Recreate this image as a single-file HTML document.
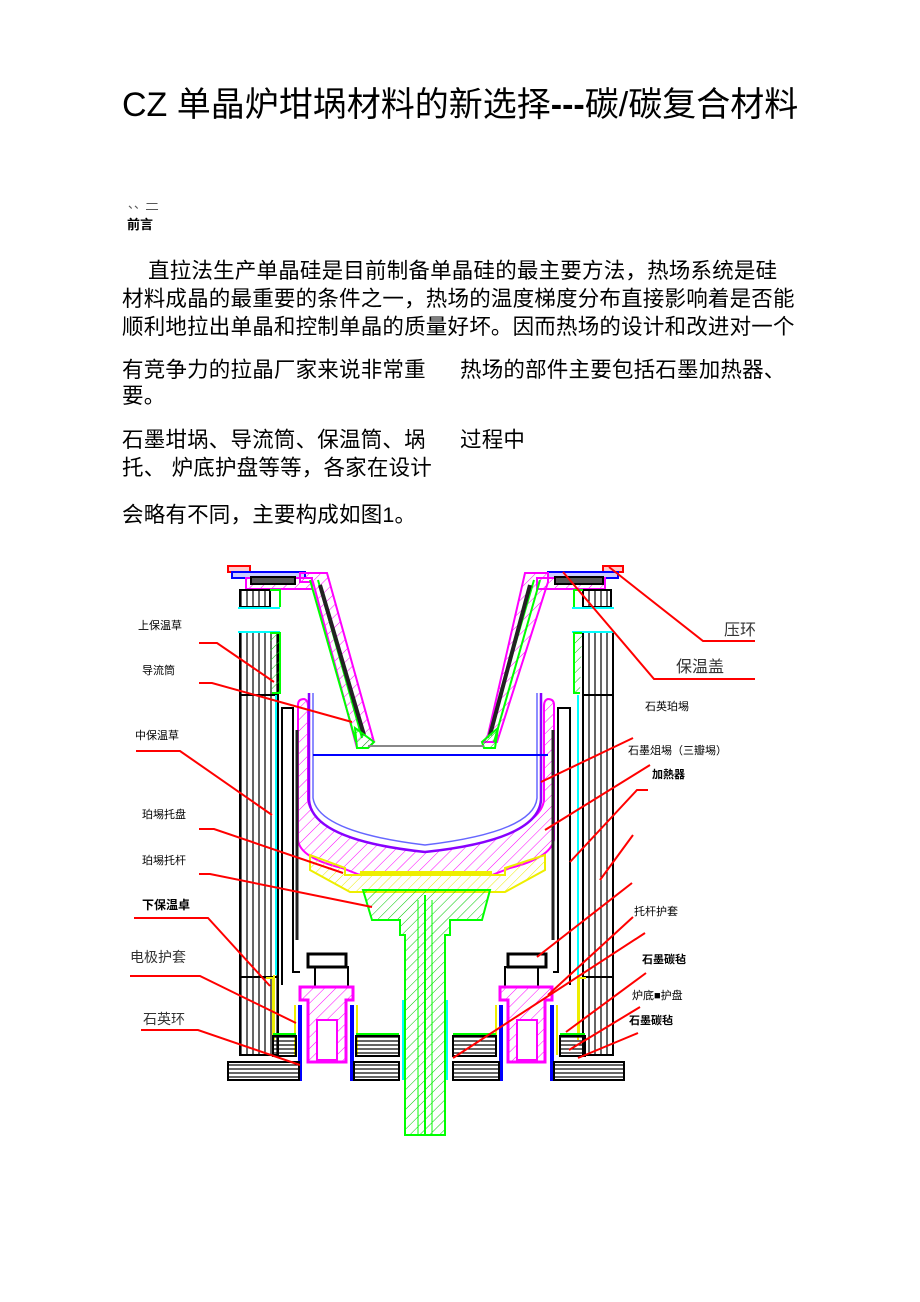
<!DOCTYPE html>
<html><head><meta charset="utf-8"><style>
body{margin:0;width:920px;height:1302px;background:#fff;position:relative;overflow:hidden;font-family:"Liberation Sans","Noto Sans CJK SC",sans-serif;color:#000}
.t{position:absolute;white-space:nowrap;line-height:1}
.p{font-size:21.5px;letter-spacing:0.2px}
.l{font-size:11px;font-family:"Liberation Sans","Noto Sans CJK SC",sans-serif}
svg{position:absolute;left:0;top:0}
</style></head><body>
<div class="t" style="left:122px;top:88px;font-size:34px">CZ 单晶炉坩埚材料的新选择<b>---</b>碳/碳复合材料</div>
<div class="t" style="left:128px;top:198px;font-size:12px;color:#555">、、<span style="text-decoration:underline">一</span></div>
<div class="t" style="left:127px;top:218px;font-size:13px;font-weight:bold">前言</div>
<div class="t p" style="left:148px;top:261px">直拉法生产单晶硅是目前制备单晶硅的最主要方法，热场系统是硅</div>
<div class="t p" style="left:122px;top:289px">材料成晶的最重要的条件之一，热场的温度梯度分布直接影响着是否能</div>
<div class="t p" style="left:122px;top:317px">顺利地拉出单晶和控制单晶的质量好坏。因而热场的设计和改进对一个</div>
<div class="t p" style="left:122px;top:360px">有竞争力的拉晶厂家来说非常重</div>
<div class="t p" style="left:460px;top:360px">热场的部件主要包括石墨加热器、</div>
<div class="t p" style="left:122px;top:386px">要。</div>
<div class="t p" style="left:122px;top:430px">石墨坩埚、导流筒、保温筒、埚</div>
<div class="t p" style="left:460px;top:430px">过程中</div>
<div class="t p" style="left:122px;top:458px">托、 炉底护盘等等，各家在设计</div>
<div class="t p" style="left:122px;top:505px">会略有不同，主要构成如图1。</div>

<svg width="920" height="1302" viewBox="0 0 920 1302">
<defs>
<pattern id="hm" width="8" height="8" patternUnits="userSpaceOnUse" patternTransform="rotate(45)"><line x1="0" y1="0" x2="0" y2="8" stroke="#f0f" stroke-width="1"/></pattern>
<pattern id="hg" width="7" height="7" patternUnits="userSpaceOnUse" patternTransform="rotate(45)"><line x1="0" y1="0" x2="0" y2="7" stroke="#0c0" stroke-width="1"/></pattern>
<pattern id="hy" width="7" height="7" patternUnits="userSpaceOnUse" patternTransform="rotate(45)"><line x1="0" y1="0" x2="0" y2="7" stroke="#ee0" stroke-width="1"/></pattern>
<pattern id="vl" width="6" height="10" patternUnits="userSpaceOnUse"><line x1="1" y1="0" x2="1" y2="10" stroke="#000" stroke-width="1.2"/></pattern>
<pattern id="hl" width="10" height="4" patternUnits="userSpaceOnUse"><line x1="0" y1="1" x2="10" y2="1" stroke="#000" stroke-width="1.2"/></pattern>
</defs>
<g fill="none" stroke-width="2">
<!-- graphite crucible -->
<path d="M298 705Q298 699 304 699Q308 700 308 706V800Q312 835 425 852Q540 835 544 800V706Q544 700 548 699Q554 699 554 705V840Q550 858 510 868L492 875H360L342 868Q300 858 298 840Z" fill="url(#hm)" stroke="#f0f"/>
<!-- quartz crucible -->
<path d="M309 693V800Q312 840 425 852Q538 840 541 800V693" stroke="#80f" fill="#fff" stroke-width="2.5"/>
<path d="M313 693V798Q318 832 425 845Q534 832 537 798V693" stroke="#66f" stroke-width="1.5"/>
<line x1="313" y1="755" x2="548" y2="755" stroke="#00f"/>
<!-- top covers -->
<rect x="228" y="566" width="22" height="6" fill="#fcc" stroke="#f00"/>
<rect x="232" y="572" width="73" height="6" fill="#ccf" stroke="#00f"/>
<path d="M246 578H312V589H246Z" stroke="#f0f" fill="url(#hm)"/>
<rect x="251" y="577" width="44" height="7" fill="#555" stroke="#000"/>
<rect x="603" y="566" width="20" height="6" fill="#fcc" stroke="#f00"/>
<rect x="548" y="572" width="70" height="6" fill="#ccf" stroke="#00f"/>
<path d="M537 578H605V589H537Z" stroke="#f0f" fill="url(#hm)"/>
<rect x="555" y="577" width="48" height="7" fill="#555" stroke="#000"/>
<!-- funnel -->
<path d="M300 573H327L374 742L368 748H357L313 582H300Z" stroke="#f0f" fill="url(#hm)"/>
<path d="M310 580L356 742M318 580L362 738" stroke="#0f0"/>
<path d="M320 585L364 735" stroke="#222" stroke-width="4"/>
<path d="M355 728L374 742L368 748L357 748Z" fill="url(#hg)" stroke="#0f0"/>
<path d="M525 573H548V582L497 742H484L488 735Z" stroke="#f0f" fill="url(#hm)"/>
<path d="M540 580L494 742M534 580L488 738" stroke="#0f0"/>
<path d="M530 585L490 735" stroke="#222" stroke-width="4"/>
<path d="M498 728L482 742L484 748L495 748Z" fill="url(#hg)" stroke="#0f0"/>
<line x1="368" y1="746" x2="484" y2="746" stroke="#888"/>
<!-- insulation columns -->
<rect x="240" y="590" width="30" height="17" fill="url(#vl)" stroke="#000"/>
<line x1="238" y1="608" x2="280" y2="608" stroke="#0ff"/>
<path d="M270 590H280V607" stroke="#0f0"/>
<rect x="240" y="632" width="38" height="423" fill="url(#vl)" stroke="#000"/>
<line x1="240" y1="695" x2="278" y2="695" stroke="#000"/>
<line x1="240" y1="977" x2="278" y2="977" stroke="#000"/>
<line x1="238" y1="632" x2="280" y2="632" stroke="#0ff"/>
<path d="M270 633H280V693H272" stroke="#0f0" fill="url(#hg)"/>
<line x1="276" y1="695" x2="276" y2="975" stroke="#0ff"/>
<rect x="583" y="590" width="28" height="17" fill="url(#vl)" stroke="#000"/>
<line x1="572" y1="608" x2="614" y2="608" stroke="#0ff"/>
<path d="M583 590H574V607" stroke="#0f0"/>
<rect x="583" y="632" width="30" height="423" fill="url(#vl)" stroke="#000"/>
<line x1="583" y1="695" x2="613" y2="695" stroke="#000"/>
<line x1="583" y1="977" x2="613" y2="977" stroke="#000"/>
<line x1="572" y1="632" x2="614" y2="632" stroke="#0ff"/>
<path d="M582 633H574V693H580" stroke="#0f0" fill="url(#hg)"/>
<line x1="578" y1="695" x2="578" y2="975" stroke="#0ff"/>
<!-- heater -->
<path d="M282 985V708H293V972H300" stroke="#000"/>
<line x1="297" y1="730" x2="297" y2="940" stroke="#222" stroke-width="3"/>
<path d="M570 985V708H558V972H553" stroke="#000"/>
<line x1="553" y1="730" x2="553" y2="940" stroke="#222" stroke-width="3"/>
<path d="M274 975V1040M266 978H273V1035" stroke="#ee0"/>
<path d="M578 975V1040M586 978H579V1035" stroke="#ee0"/>
<!-- tray yellow -->
<path d="M310 855L345 868V875H505V868L545 855V870L505 892H350L310 870Z" fill="url(#hy)" stroke="#ee0"/>
<rect x="360" y="871" width="132" height="4" fill="#ee0" stroke="none"/>
<!-- green tray + shaft -->
<path d="M363 890H490L482 920H450V935H445V1135H405V935H400V920H372Z" fill="url(#hg)" stroke="#0f0"/>
<line x1="425" y1="895" x2="425" y2="1135" stroke="#0f0"/>
<line x1="418" y1="900" x2="418" y2="1135" stroke="#0f0" stroke-width="1"/>
<line x1="432" y1="900" x2="432" y2="1135" stroke="#0f0" stroke-width="1"/>
<!-- electrodes -->
<rect x="308" y="954" width="38" height="13" fill="#fff" stroke="#000" stroke-width="3"/>
<rect x="315" y="967" width="33" height="20" stroke="#000"/>
<path d="M300 987H353V1000H346V1062H308V1000H300Z" fill="url(#hm)" stroke="#f0f" stroke-width="3"/>
<rect x="317" y="1020" width="20" height="40" fill="#fff" stroke="#f0f"/>
<rect x="508" y="954" width="38" height="13" fill="#fff" stroke="#000" stroke-width="3"/>
<rect x="505" y="967" width="33" height="20" stroke="#000"/>
<path d="M500 987H552V1000H545V1062H508V1000H500Z" fill="url(#hm)" stroke="#f0f" stroke-width="3"/>
<rect x="517" y="1020" width="20" height="40" fill="#fff" stroke="#f0f"/>
<g stroke="#00f" stroke-width="4"><line x1="300" y1="1005" x2="300" y2="1081"/><line x1="352" y1="1005" x2="352" y2="1081"/><line x1="501" y1="1005" x2="501" y2="1081"/><line x1="552" y1="1005" x2="552" y2="1081"/></g>
<g stroke="#ee0"><path d="M295 1005V1055M357 1005V1055M496 1005V1055M557 1005V1055"/></g>
<g stroke="#0ff"><path d="M403 1000V1080M447 1000V1080"/></g>
<!-- plates -->
<g stroke="#000" fill="url(#hl)">
<rect x="228" y="1062" width="71" height="18"/><rect x="354" y="1062" width="45" height="18"/><rect x="453" y="1062" width="46" height="18"/><rect x="554" y="1062" width="70" height="18"/>
<rect x="273" y="1036" width="23" height="20"/><rect x="356" y="1036" width="43" height="20"/><rect x="453" y="1036" width="43" height="20"/><rect x="560" y="1036" width="25" height="20"/>
</g>
<g stroke="#0f0"><path d="M273 1034H296M356 1034H399M453 1034H496M560 1034H585"/></g>
<!-- leaders -->
<g stroke="#f00" stroke-width="2">
<path d="M199 643H217L274 682"/>
<path d="M199 683H212L352 722"/>
<path d="M136 751H180L272 815"/>
<path d="M199 829H214L343 873"/>
<path d="M199 874H210L372 907"/>
<path d="M134 918H208L270 986"/>
<path d="M130 976H200L296 1023"/>
<path d="M141 1030H198L300 1065"/>
<path d="M609 567L703 641H755"/>
<path d="M563 572L654 679H755"/>
<path d="M633 738L541 782"/>
<path d="M650 765L545 830"/>
<path d="M648 790H637L570 862"/>
<path d="M633 835L600 880"/>
<path d="M632 883L537 957"/>
<path d="M633 917L548 995"/>
<path d="M645 933L453 1058"/>
<path d="M646 973L566 1032"/>
<path d="M640 1007L569 1050"/>
<path d="M638 1033L578 1058"/>
</g>
</g>
</svg>
<div class="t l" style="left:138px;top:621px">上保温草</div>
<div class="t l" style="left:142px;top:666px">导流筒</div>
<div class="t l" style="left:135px;top:731px">中保温草</div>
<div class="t l" style="left:142px;top:810px">珀埸托盘</div>
<div class="t l" style="left:142px;top:856px">珀埸托杆</div>
<div class="t" style="left:142px;top:899px;font-size:12px;font-weight:bold">下保温卓</div>
<div class="t" style="left:130px;top:950px;font-size:14px;color:#333">电极护套</div>
<div class="t" style="left:143px;top:1012px;font-size:14px;color:#333">石英环</div>
<div class="t" style="left:724px;top:623px;font-size:16px;color:#333">压环</div>
<div class="t" style="left:676px;top:660px;font-size:16px;color:#333">保温盖</div>
<div class="t l" style="left:645px;top:702px">石英珀埸</div>
<div class="t l" style="left:628px;top:746px">石墨俎埸（三瓣埸）</div>
<div class="t l" style="left:652px;top:770px;font-weight:bold">加熱器</div>
<div class="t l" style="left:634px;top:907px">托杆护套</div>
<div class="t l" style="left:642px;top:955px;font-weight:bold">石墨碳毡</div>
<div class="t l" style="left:632px;top:991px">炉底■护盘</div>
<div class="t l" style="left:629px;top:1016px;font-weight:bold">石墨碳毡</div>
</body></html>
